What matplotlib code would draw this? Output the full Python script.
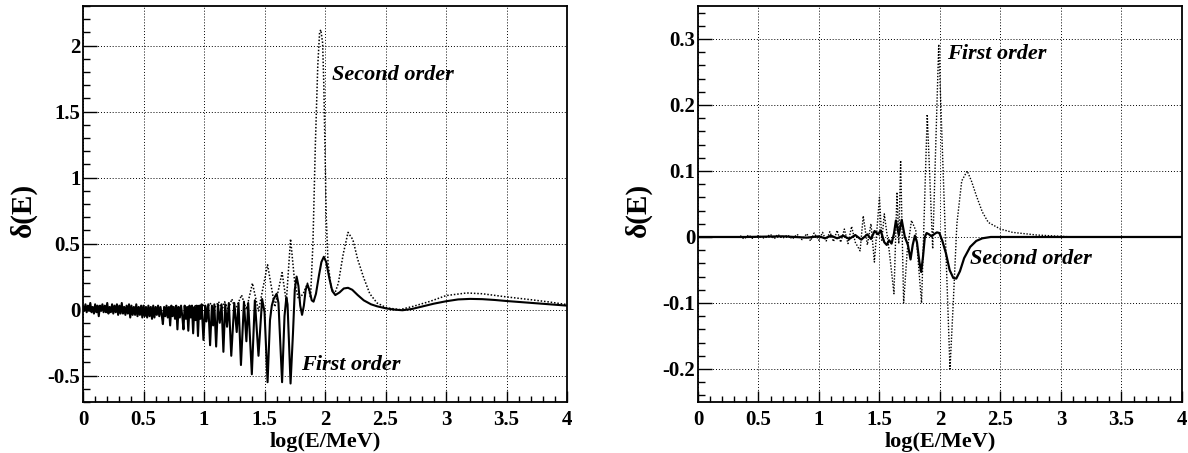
import matplotlib
matplotlib.use("Agg")
import matplotlib.pyplot as plt
from matplotlib.ticker import MultipleLocator, FormatStrFormatter

# ---- left panel: first order (solid) ----
left_first_x = [
    0.00, 0.01, 0.02, 0.03, 0.04, 0.05, 0.06, 0.07, 0.08, 0.09,
    0.10, 0.11, 0.12, 0.13, 0.14, 0.15, 0.16, 0.17, 0.18, 0.19,
    0.20, 0.21, 0.22, 0.23, 0.24, 0.25, 0.26, 0.27, 0.28, 0.29,
    0.30, 0.31, 0.32, 0.33, 0.34, 0.35, 0.36, 0.37, 0.38, 0.39,
    0.40, 0.41, 0.42, 0.43, 0.44, 0.45, 0.46, 0.47, 0.48, 0.49,
    0.50, 0.51, 0.52, 0.53, 0.54, 0.55, 0.56, 0.57, 0.58, 0.59,
    0.60, 0.61, 0.62, 0.63, 0.64, 0.65, 0.66, 0.67, 0.68, 0.69,
    0.70, 0.71, 0.72, 0.73, 0.74, 0.75, 0.76, 0.77, 0.78, 0.79,
    0.80, 0.81, 0.82, 0.83, 0.84, 0.85, 0.86, 0.87, 0.88, 0.89,
    0.90, 0.91, 0.92, 0.93, 0.94, 0.95, 0.96, 0.97, 0.98, 0.995,
    1.01, 1.02, 1.035, 1.05, 1.065, 1.075, 1.085, 1.10, 1.115, 1.13,
    1.145, 1.16, 1.175, 1.19, 1.205, 1.225, 1.25, 1.27, 1.285, 1.305,
    1.33, 1.35, 1.365, 1.395, 1.42, 1.45, 1.48, 1.50, 1.525, 1.545,
    1.56, 1.575, 1.60, 1.615, 1.645, 1.665, 1.68, 1.69, 1.715, 1.735,
    1.75, 1.765, 1.78, 1.795, 1.81, 1.825, 1.84, 1.855, 1.87, 1.89,
    1.905, 1.925, 1.95, 1.97, 1.99, 2.01, 2.035, 2.06, 2.085, 2.12,
    2.155, 2.19, 2.225, 2.27, 2.32, 2.38, 2.43, 2.50, 2.57, 2.64,
    2.72, 2.81, 2.90, 3.00, 3.10, 3.20, 3.30, 3.40, 3.50, 3.60,
    3.70, 3.80, 3.90, 4.00,
]
left_first_y = [
    0.02, -0.01, 0.04, -0.02, 0.03, -0.01, 0.05, -0.02, 0.02, -0.03,
    0.04, -0.02, 0.03, -0.05, 0.03, -0.01, 0.04, -0.02, 0.03, -0.02,
    0.05, -0.03, 0.02, -0.02, 0.04, -0.03, 0.03, -0.02, 0.04, -0.04,
    0.03, -0.03, 0.05, -0.03, 0.02, -0.04, 0.03, -0.03, 0.04, -0.06,
    0.03, -0.04, 0.02, -0.04, 0.04, -0.05, 0.02, -0.04, 0.03, -0.06,
    0.03, -0.05, 0.02, -0.06, 0.03, -0.05, 0.02, -0.07, 0.03, -0.06,
    0.02, -0.04, 0.03, -0.05, 0.02, -0.04, -0.11, 0.02, -0.05, 0.03,
    -0.06, 0.02, -0.12, 0.03, -0.05, 0.02, -0.07, 0.03, -0.15, 0.02,
    -0.06, 0.03, -0.05, -0.15, 0.03, -0.07, 0.02, -0.16, 0.03, -0.06,
    0.03, -0.18, 0.02, -0.08, 0.03, -0.20, 0.03, -0.07, 0.04, -0.23,
    0.03, -0.09, 0.04, -0.27, 0.03, -0.12, 0.04, -0.28, 0.04, -0.10,
    0.04, -0.32, 0.04, -0.13, 0.05, -0.35, 0.05, -0.17, 0.05, -0.42,
    0.06, -0.24, 0.05, -0.49, 0.07, -0.35, 0.08, -0.02, -0.55, -0.08,
    0.03, 0.08, 0.12, 0.05, -0.55, -0.05, 0.09, 0.04, -0.56, -0.18,
    0.15, 0.25, 0.18, 0.03, -0.04, 0.03, 0.15, 0.19, 0.15, 0.07,
    0.06, 0.12, 0.26, 0.36, 0.40, 0.36, 0.24, 0.14, 0.11, 0.13,
    0.16, 0.165, 0.15, 0.11, 0.07, 0.04, 0.025, 0.01, 0.0, -0.005,
    0.005, 0.025, 0.045, 0.063, 0.077, 0.081, 0.079, 0.073, 0.065, 0.058,
    0.051, 0.044, 0.037, 0.03,
]

# ---- left panel: second order (dotted) ----
left_second_x = [
    0.90, 0.93, 0.96, 0.99, 1.02, 1.05, 1.08, 1.12, 1.15, 1.17,
    1.20, 1.23, 1.26, 1.31, 1.35, 1.40, 1.45, 1.525, 1.585, 1.645,
    1.68, 1.715, 1.75, 1.78, 1.82, 1.855, 1.88, 1.90, 1.92, 1.94,
    1.955, 1.965, 1.98, 1.99, 2.00, 2.01, 2.025, 2.05, 2.08, 2.11,
    2.15, 2.19, 2.23, 2.27, 2.32, 2.37, 2.43, 2.51, 2.62, 2.73,
    2.87, 3.00, 3.17, 3.30, 3.50, 3.70, 3.85, 4.00,
]
left_second_y = [
    0.01, 0.03, 0.00, 0.04, 0.00, 0.05, 0.00, 0.06, 0.00, 0.06,
    0.00, 0.08, 0.00, 0.11, 0.00, 0.20, -0.01, 0.34, 0.02, 0.28,
    0.06, 0.535, 0.20, 0.08, 0.12, 0.20, 0.09, 0.50, 1.25, 1.85,
    2.10, 2.12, 2.02, 1.70, 1.20, 0.70, 0.35, 0.17, 0.12, 0.20,
    0.42, 0.585, 0.53, 0.38, 0.24, 0.12, 0.05, 0.013, 0.0, 0.025,
    0.063, 0.106, 0.126, 0.12, 0.096, 0.075, 0.058, 0.038,
]

# ---- right panel: second order (solid) ----
right_second_x = [
    0.00, 0.40, 0.70, 0.90, 1.00, 1.05, 1.10, 1.15, 1.20, 1.25,
    1.30, 1.35, 1.40, 1.43, 1.46, 1.49, 1.51, 1.54, 1.56, 1.58,
    1.60, 1.62, 1.636, 1.66, 1.684, 1.71, 1.735, 1.757, 1.775, 1.793,
    1.81, 1.83, 1.845, 1.86, 1.875, 1.89, 1.91, 1.93, 1.95, 1.975,
    1.995, 2.02, 2.05, 2.08, 2.11, 2.135, 2.165, 2.20, 2.25, 2.30,
    2.35, 2.42, 3.00, 4.00,
]
right_second_y = [
    0.0, 0.0, 0.001, -0.001, 0.001, -0.002, 0.002, -0.002, 0.002, -0.003,
    0.003, -0.004, 0.004, -0.003, 0.009, 0.004, 0.010, -0.008, -0.012, -0.005,
    -0.010, 0.005, 0.025, 0.003, 0.026, 0.0, -0.012, -0.034, -0.012, 0.002,
    -0.008, -0.038, -0.053, -0.030, 0.0, 0.006, 0.004, 0.001, 0.004, 0.007,
    0.006, -0.006, -0.025, -0.050, -0.062, -0.063, -0.052, -0.032, -0.015, -0.006,
    -0.002, 0.0, 0.0, 0.0,
]

# ---- right panel: first order (dotted) ----
right_first_x = [
    0.35, 0.38, 0.42, 0.45, 0.50, 0.55, 0.60, 0.63, 0.66, 0.70,
    0.74, 0.78, 0.82, 0.86, 0.90, 0.93, 0.96, 1.00, 1.03, 1.06,
    1.09, 1.12, 1.15, 1.18, 1.21, 1.24, 1.27, 1.30, 1.34, 1.366,
    1.40, 1.43, 1.458, 1.50, 1.52, 1.54, 1.58, 1.62, 1.645, 1.66,
    1.675, 1.70, 1.73, 1.765, 1.80, 1.848, 1.895, 1.94, 1.99, 2.083,
    2.11, 2.14, 2.18, 2.225, 2.26, 2.30, 2.35, 2.40, 2.50, 2.60,
    2.70, 2.80, 2.90, 3.00, 3.10,
]
right_first_y = [
    0.002, -0.003, 0.003, -0.002, 0.002, -0.002, 0.004, -0.003, 0.004, -0.002,
    0.003, -0.003, 0.004, -0.004, 0.005, -0.006, 0.006, -0.005, 0.007, -0.006,
    0.008, -0.007, 0.010, -0.008, 0.012, -0.010, 0.016, -0.008, -0.021, 0.032,
    -0.012, 0.020, -0.038, 0.060, -0.005, 0.035, -0.020, -0.086, 0.068, -0.010,
    0.116, -0.100, -0.020, 0.025, 0.010, -0.100, 0.186, -0.018, 0.292, -0.200,
    -0.100, 0.020, 0.085, 0.100, 0.085, 0.063, 0.038, 0.022, 0.012, 0.007,
    0.005, 0.003, 0.002, 0.001, 0.0,
]

x_ticks = [0, 0.5, 1, 1.5, 2, 2.5, 3, 3.5, 4]

plt.rcParams['font.family'] = ['Liberation Serif', 'DejaVu Serif']
plt.rcParams['font.weight'] = 'bold'
plt.rcParams['axes.unicode_minus'] = False

dotted = (0, (1, 1.2))


def setup_axes(ax, ylim, ymajor, yminor):
    ax.set_xlim(0, 4)
    ax.set_ylim(*ylim)
    ax.set_xticks(x_ticks)
    ax.xaxis.set_minor_locator(MultipleLocator(0.1))
    ax.yaxis.set_major_locator(MultipleLocator(ymajor))
    ax.yaxis.set_minor_locator(MultipleLocator(yminor))
    ax.xaxis.set_major_formatter(FormatStrFormatter('%g'))
    ax.yaxis.set_major_formatter(FormatStrFormatter('%g'))
    ax.tick_params(axis='both', which='both', direction='in', top=False, right=False,
                   labelsize=15, width=1.0)
    ax.tick_params(axis='y', which='major', length=10, pad=2)
    ax.tick_params(axis='y', which='minor', length=5)
    ax.tick_params(axis='x', which='major', length=8, pad=6)
    ax.tick_params(axis='x', which='minor', length=4)
    ax.grid(True, which='major', color='black', linestyle=(0, (1, 2)), linewidth=0.7)
    for s in ax.spines.values():
        s.set_linewidth(1.3)
    ax.set_xlabel('log(E/MeV)', fontsize=16, fontweight='bold', labelpad=1)
    ax.set_ylabel('δ(E)', fontsize=21, fontweight='bold')
    ax.yaxis.set_label_coords(-0.095, 0.485)


fig = plt.figure(figsize=(11.88, 4.53), dpi=100)
ax1 = fig.add_axes([0.0699, 0.1126, 0.4074, 0.8742])
ax2 = fig.add_axes([0.5875, 0.1126, 0.4074, 0.8742])

# left panel
setup_axes(ax1, (-0.7, 2.3), 0.5, 0.1)
ax1.plot(left_second_x, left_second_y, color='black', linestyle=dotted, linewidth=1.1)
ax1.plot(left_first_x, left_first_y, color='black', linewidth=1.5)
ax1.text(2.06, 1.78, 'Second order', fontsize=16, fontweight='bold', fontstyle='italic',
         ha='left', va='center')
ax1.text(1.80, -0.42, 'First order', fontsize=16, fontweight='bold', fontstyle='italic',
         ha='left', va='center')

# right panel
setup_axes(ax2, (-0.25, 0.35), 0.1, 0.02)
ax2.plot(right_first_x, right_first_y, color='black', linestyle=dotted, linewidth=1.0)
ax2.plot(right_second_x, right_second_y, color='black', linewidth=1.6)
ax2.text(2.06, 0.277, 'First order', fontsize=16, fontweight='bold', fontstyle='italic',
         ha='left', va='center')
ax2.text(2.25, -0.033, 'Second order', fontsize=16, fontweight='bold', fontstyle='italic',
         ha='left', va='center')

fig.savefig('out.png', dpi=100)
